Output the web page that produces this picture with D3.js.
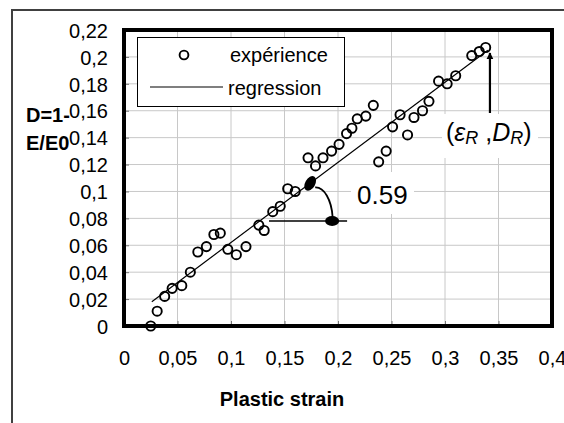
<!DOCTYPE html>
<html><head><meta charset="utf-8">
<script src="https://cdn.jsdelivr.net/npm/d3@7"></script>
<style>
html,body{margin:0;padding:0;background:#fff;}
svg{display:block;font-family:"Liberation Sans",Arial,sans-serif;}
</style></head>
<body>
<svg id="chart" width="564" height="423"></svg>
<script>
// ---- data ----
const strain = [0.025,0.031,0.038,0.045,0.054,0.062,0.069,0.077,0.084,0.090,0.097,0.105,0.114,0.126,0.131,0.139,0.146,0.153,0.160,0.172,0.179,0.186,0.194,0.201,0.208,0.213,0.218,0.226,0.233,0.238,0.245,0.251,0.258,0.265,0.271,0.279,0.285,0.294,0.302,0.310,0.325,0.332,0.338];
const damage = [0.000,0.011,0.022,0.028,0.030,0.040,0.055,0.059,0.068,0.069,0.057,0.053,0.059,0.075,0.071,0.085,0.089,0.102,0.100,0.125,0.119,0.125,0.130,0.135,0.143,0.147,0.154,0.156,0.164,0.122,0.130,0.148,0.157,0.142,0.155,0.160,0.167,0.182,0.180,0.186,0.201,0.204,0.207];
const regX = [0.026, 0.340];
const regY = [0.018, 0.205];
const xTicks = [0,0.05,0.1,0.15,0.2,0.25,0.3,0.35,0.4];
const xTickLabels = ["0","0,05","0,1","0,15","0,2","0,25","0,3","0,35","0,4"];
const yTicks = [0,0.02,0.04,0.06,0.08,0.1,0.12,0.14,0.16,0.18,0.2,0.22];
const yTickLabels = ["0","0,02","0,04","0,06","0,08","0,1","0,12","0,14","0,16","0,18","0,2","0,22"];
const legendLabels = ["expérience","regression"];
const slopeLabel = "0.59";
// annotation anchors (data coords)
const angleTop = [0.174, 0.106];
const angleBottom = [0.1945, 0.078];
const angleBase = [0.1355, 0.2085];
const endArrowX = 0.342;

// ---- layout ----
const L = 124, R = 552, T = 30, B = 326;
const x = d3.scaleLinear().domain([0,0.4]).range([L,R]);
const y = d3.scaleLinear().domain([0,0.22]).range([B,T]);
const svg = d3.select("#chart");

// outer frame
svg.append("rect").attr("x",12).attr("y",10).attr("width",600).attr("height",500)
  .attr("fill","#fff").attr("stroke","#404040").attr("stroke-width",2);

// gridlines
const grid = svg.append("g");
grid.selectAll("line.gx").data(xTicks).join("line")
  .attr("x1",d=>x(d)).attr("x2",d=>x(d)).attr("y1",T).attr("y2",B)
  .attr("stroke","#c8c8c8").attr("stroke-width",1);
grid.selectAll("line.gy").data(yTicks).join("line")
  .attr("x1",L).attr("x2",R).attr("y1",d=>y(d)).attr("y2",d=>y(d))
  .attr("stroke","#c8c8c8").attr("stroke-width",1);

// inner ticks
const xAxis = d3.axisBottom(x).tickValues(xTicks).tickSize(-5).tickFormat((d,i)=>xTickLabels[i]).tickPadding(14);
const yAxis = d3.axisLeft(y).tickValues(yTicks).tickSize(-5).tickFormat((d,i)=>yTickLabels[i]).tickPadding(18);
const gx = svg.append("g").attr("transform",`translate(0,${B})`).call(xAxis);
const gy = svg.append("g").attr("transform",`translate(${L},0)`).call(yAxis);
[gx,gy].forEach(g=>{
  g.select(".domain").remove();
  g.selectAll(".tick line").attr("stroke","#777");
  g.selectAll("text").attr("font-family","Liberation Sans, Arial, sans-serif").attr("font-size",20).attr("fill","#000");
});
gx.selectAll("text").attr("y",null).attr("dy",null).attr("y",39);
gy.selectAll("text").attr("x",-16).attr("dy","0.36em");

// annotation white boxes
svg.append("rect").attr("x",351).attr("y",172).attr("width",63).attr("height",42).attr("fill","#fff");
svg.append("rect").attr("x",442).attr("y",114).attr("width",96).attr("height",44).attr("fill","#fff");

// plot frame
svg.append("rect").attr("x",L).attr("y",T).attr("width",R-L).attr("height",B-T)
  .attr("fill","none").attr("stroke","#000").attr("stroke-width",4);

// regression line
const line = d3.line().x(d=>x(d[0])).y(d=>y(d[1]));
svg.append("path").datum(regX.map((v,i)=>[v,regY[i]])).attr("d",line)
  .attr("fill","none").attr("stroke","#000").attr("stroke-width",1.2);

// points
svg.append("g").selectAll("circle").data(strain.map((v,i)=>[v,damage[i]])).join("circle")
  .attr("cx",d=>x(d[0])).attr("cy",d=>y(d[1])).attr("r",4.6)
  .attr("fill","none").attr("stroke","#000").attr("stroke-width",1.9);

// slope annotation
const p1 = [x(angleTop[0]), y(angleTop[1])];
const p2 = [x(angleBottom[0]), y(angleBottom[1])];
svg.append("line").attr("x1",x(angleBase[0])).attr("x2",x(angleBase[1]))
  .attr("y1",p2[1]).attr("y2",p2[1]).attr("stroke","#000").attr("stroke-width",1.6);
svg.append("path").attr("d",`M${p1[0]+5},${p1[1]+4} A17,34 0 0 1 ${p2[0]+0.5},${p2[1]-4}`)
  .attr("fill","none").attr("stroke","#000").attr("stroke-width",1.8);
svg.append("ellipse").attr("cx",p1[0]).attr("cy",p1[1]).attr("rx",5).attr("ry",8)
  .attr("transform",`rotate(30,${p1[0]},${p1[1]})`).attr("fill","#000");
svg.append("ellipse").attr("cx",p2[0]).attr("cy",p2[1]).attr("rx",7).attr("ry",5).attr("fill","#000");
svg.append("text").attr("x",357).attr("y",204).attr("font-size",26).text(slopeLabel);

// end arrow
const ax = x(endArrowX);
svg.append("defs").append("marker").attr("id","ah").attr("viewBox","0 0 10 10")
  .attr("refX",9).attr("refY",5).attr("markerWidth",3.2).attr("markerHeight",4.5).attr("orient","auto")
  .attr("markerUnits","strokeWidth")
  .append("path").attr("d","M0,0 L10,5 L0,10 z").attr("fill","#000");
svg.append("line").attr("x1",ax).attr("x2",ax).attr("y1",113).attr("y2",53)
  .attr("stroke","#000").attr("stroke-width",2.2).attr("marker-end","url(#ah)");
const lab = svg.append("text").attr("x",446).attr("y",141).attr("font-size",25);
lab.append("tspan").text("(");
lab.append("tspan").attr("font-style","italic").text("ε");
lab.append("tspan").attr("font-style","italic").attr("font-size",18).attr("dy",3).text("R");
lab.append("tspan").attr("dy",-3).text(" ,");
lab.append("tspan").attr("font-style","italic").text("D");
lab.append("tspan").attr("font-style","italic").attr("font-size",18).attr("dy",3).text("R");
lab.append("tspan").attr("dy",-3).text(")");

// legend
const lg = svg.append("g");
lg.append("rect").attr("x",137.5).attr("y",37.5).attr("width",207).attr("height",69)
  .attr("fill","#fff").attr("stroke","#000").attr("stroke-width",1);
lg.append("circle").attr("cx",184).attr("cy",55).attr("r",4.4).attr("fill","none").attr("stroke","#000").attr("stroke-width",1.9);
lg.append("line").attr("x1",150).attr("x2",223).attr("y1",87).attr("y2",87).attr("stroke","#000").attr("stroke-width",1.2);
lg.append("text").attr("x",230).attr("y",62).attr("font-size",20).text(legendLabels[0]);
lg.append("text").attr("x",228).attr("y",95).attr("font-size",20).text(legendLabels[1]);

// axis titles
svg.append("text").attr("x",282).attr("y",406).attr("text-anchor","middle")
  .attr("font-size",20).attr("font-weight","bold").text("Plastic strain");
const yt = svg.append("text").attr("font-size",20).attr("font-weight","bold");
yt.append("tspan").attr("x",26).attr("y",122).text("D=1-");
yt.append("tspan").attr("x",26).attr("y",150).text("E/E0");
</script>
</body></html>
